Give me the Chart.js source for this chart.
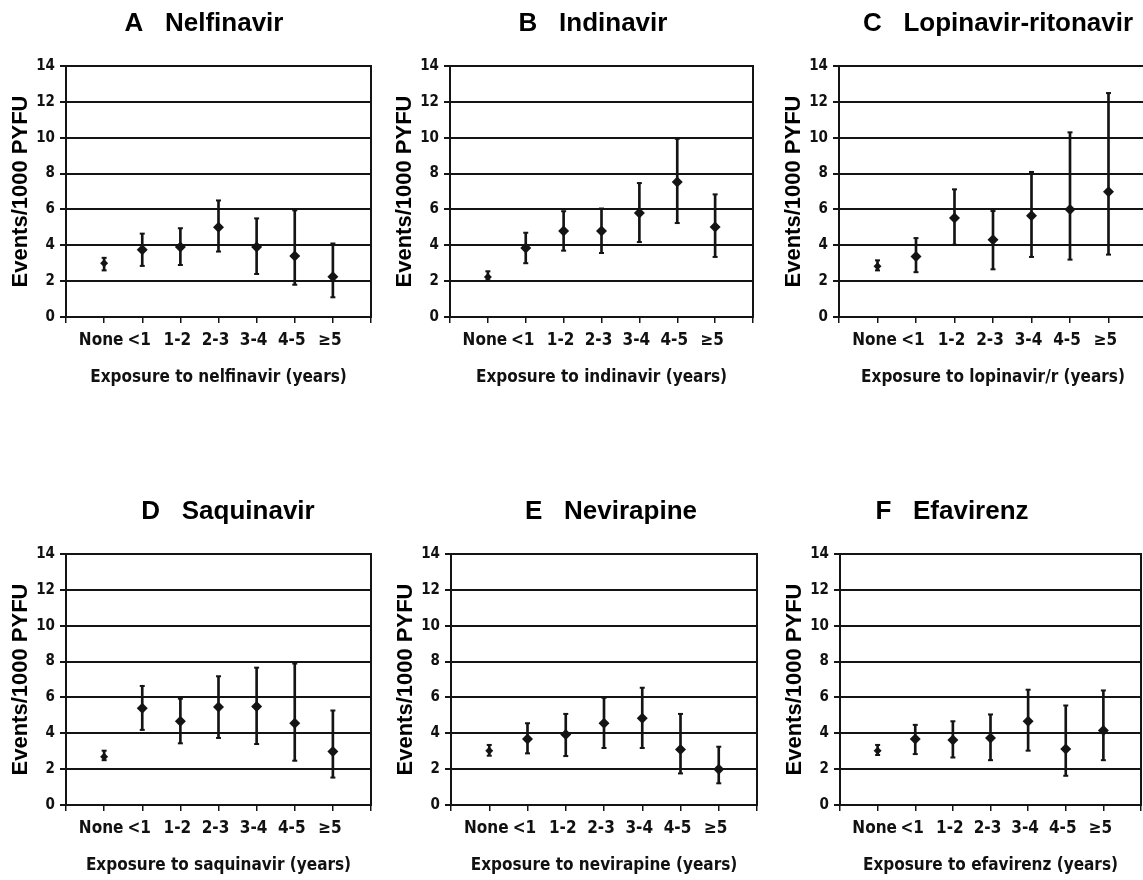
<!DOCTYPE html>
<html>
<head>
<meta charset="utf-8">
<script src="https://cdn.jsdelivr.net/npm/chart.js@4.4.1/dist/chart.umd.min.js"></script>
<style>
  html, body { margin: 0; padding: 0; background: #fff; width: 1143px; height: 880px; overflow: hidden; position: relative; }
  canvas { position: absolute; }
</style>
</head>
<body>
<script>
// --- Data (events / 1000 PYFU, with 95% CI) ---
const categories = ['None', '<1', '1-2', '2-3', '3-4', '4-5', '\u22655'];
const yTickValues = [0, 2, 4, 6, 8, 10, 12, 14];

const nelfinavirRate = [3.0, 3.75, 3.9, 5.0, 3.9, 3.4, 2.25];
const nelfinavirLow  = [2.6, 2.85, 2.9, 3.65, 2.4, 1.8, 1.1];
const nelfinavirHigh = [3.3, 4.65, 4.95, 6.5, 5.5, 5.95, 4.1];

const indinavirRate = [2.23, 3.85, 4.8, 4.8, 5.8, 7.53, 5.02];
const indinavirLow  = [2.05, 3.0, 3.7, 3.57, 4.18, 5.24, 3.35];
const indinavirHigh = [2.55, 4.7, 5.9, 6.05, 7.47, 9.94, 6.84];

const lopinavirRate = [2.83, 3.38, 5.52, 4.31, 5.65, 5.99, 6.99];
const lopinavirLow  = [2.6, 2.5, 4.03, 2.66, 3.35, 3.2, 3.48];
const lopinavirHigh = [3.16, 4.4, 7.12, 5.91, 8.09, 10.3, 12.49];

const saquinavirRate = [2.69, 5.4, 4.67, 5.46, 5.5, 4.56, 2.99];
const saquinavirLow  = [2.5, 4.19, 3.44, 3.74, 3.4, 2.47, 1.53];
const saquinavirHigh = [3.03, 6.64, 5.93, 7.18, 7.66, 7.89, 5.27];

const nevirapineRate = [3.03, 3.68, 3.93, 4.56, 4.84, 3.1, 2.0];
const nevirapineLow  = [2.75, 2.88, 2.73, 3.18, 3.18, 1.76, 1.21];
const nevirapineHigh = [3.35, 4.56, 5.08, 5.98, 6.54, 5.08, 3.25];

const efavirenzRate = [3.03, 3.68, 3.63, 3.74, 4.67, 3.12, 4.15];
const efavirenzLow  = [2.79, 2.84, 2.65, 2.5, 3.03, 1.63, 2.5];
const efavirenzHigh = [3.35, 4.47, 4.67, 5.05, 6.43, 5.55, 6.39];

// --- Panels: text + where each plot frame sits on the page ---
const panels = [
  { letter: 'A', drug: 'Nelfinavir', xTitle: 'Exposure to nelfinavir (years)', rate: nelfinavirRate, low: nelfinavirLow, high: nelfinavirHigh,
    row: 0, plotLeft: 66, plotRight: 371, titleX: 204 },
  { letter: 'B', drug: 'Indinavir', xTitle: 'Exposure to indinavir (years)', rate: indinavirRate, low: indinavirLow, high: indinavirHigh,
    row: 0, plotLeft: 450, plotRight: 753, titleX: 593 },
  { letter: 'C', drug: 'Lopinavir-ritonavir', xTitle: 'Exposure to lopinavir/r (years)', rate: lopinavirRate, low: lopinavirLow, high: lopinavirHigh,
    row: 0, plotLeft: 839, plotRight: 1147, titleX: 998 },
  { letter: 'D', drug: 'Saquinavir', xTitle: 'Exposure to saquinavir (years)', rate: saquinavirRate, low: saquinavirLow, high: saquinavirHigh,
    row: 1, plotLeft: 66, plotRight: 371, titleX: 228 },
  { letter: 'E', drug: 'Nevirapine', xTitle: 'Exposure to nevirapine (years)', rate: nevirapineRate, low: nevirapineLow, high: nevirapineHigh,
    row: 1, plotLeft: 451, plotRight: 757, titleX: 611 },
  { letter: 'F', drug: 'Efavirenz', xTitle: 'Exposure to efavirenz (years)', rate: efavirenzRate, low: efavirenzLow, high: efavirenzHigh,
    row: 1, plotLeft: 840, plotRight: 1148, titleX: 952 },
];

const ROW_TOP = [0, 488];
const CANVAS_H = 400;
const PLOT_TOP = 66, PLOT_BOTTOM = 317;
const INK = '#141414';
const NARROW = "'Liberation Sans Narrow', 'DejaVu Sans Condensed', 'Arial Narrow', sans-serif";
const SANS = "'Liberation Sans', Arial, Helvetica, sans-serif";

// empty slots at both ends give the frame its margin
const axisLabels = ['', ...categories, ''];
const pad = arr => [null, ...arr, null];

function makePanel(p) {
  const half = Math.max(p.titleX - (p.plotLeft - 64), p.plotRight - p.titleX);
  const w = 2 * Math.ceil(half);
  const left = p.titleX - w / 2;
  const yAxisW = p.plotLeft - left;
  const rightW = left + w - p.plotRight;

  const canvas = document.createElement('canvas');
  canvas.width = w;
  canvas.height = CANVAS_H;
  canvas.style.left = left + 'px';
  canvas.style.top = ROW_TOP[p.row] + 'px';
  canvas.style.width = w + 'px';
  canvas.style.height = CANVAS_H + 'px';
  document.body.appendChild(canvas);

  const titleLH = 26 * 1.2;
  const titlePadTop = 24 - titleLH / 2;

  new Chart(canvas.getContext('2d'), {
    type: 'bar',
    data: {
      labels: axisLabels,
      datasets: [
        {
          type: 'line', order: 0, data: pad(p.rate), showLine: false,
          pointStyle: 'rectRot',
          pointRadius: ctx => (ctx.dataIndex === 1 ? 4 : 5.5),
          pointBackgroundColor: INK, pointBorderColor: INK, pointBorderWidth: 0
        },
        {
          type: 'line', order: 1, data: pad(p.high), showLine: false,
          pointStyle: 'line', pointRadius: 2.5, pointBorderColor: INK, pointBorderWidth: 2
        },
        {
          type: 'line', order: 1, data: pad(p.low), showLine: false,
          pointStyle: 'line', pointRadius: 2.5, pointBorderColor: INK, pointBorderWidth: 2
        },
        {
          type: 'bar', order: 2,
          data: pad(p.low.map((lo, i) => [lo, p.high[i]])),
          backgroundColor: INK, borderWidth: 0, barThickness: 2
        }
      ]
    },
    options: {
      responsive: false,
      animation: false,
      devicePixelRatio: 1,
      layout: { padding: 0 },
      plugins: {
        legend: { display: false },
        tooltip: { enabled: false },
        title: {
          display: true,
          text: p.letter + '   ' + p.drug,
          color: '#000',
          font: { family: SANS, size: 26, weight: 'bold', lineHeight: 1.2 },
          padding: { top: titlePadTop, bottom: PLOT_TOP - titlePadTop - titleLH }
        }
      },
      scales: {
        x: {
          type: 'category',
          offset: false,
          grid: { display: true, drawOnChartArea: false, drawTicks: true, tickLength: 6, color: INK, lineWidth: 1.5, offset: false },
          border: { display: true, color: INK, width: 2 },
          ticks: { color: '#111', autoSkip: false, maxRotation: 0, padding: 7, labelOffset: -3,
                   font: { family: NARROW, size: 17, weight: 'bold', lineHeight: 1.2 } },
          title: { display: true, text: p.xTitle, color: '#111', padding: { top: 0, bottom: 12 },
                   font: { family: NARROW, size: 17, weight: 'bold', lineHeight: 1.2 } },
          afterFit: s => { s.height = CANVAS_H - PLOT_BOTTOM; }
        },
        y: {
          min: 0, max: 14,
          afterBuildTicks: s => { s.ticks = yTickValues.map(v => ({ value: v })); },
          grid: { color: INK, lineWidth: 2, tickLength: 6 },
          border: { display: true, color: INK, width: 2 },
          ticks: { color: '#111', padding: 5, font: { family: NARROW, size: 15, weight: 'bold' } },
          title: { display: true, text: 'Events/1000 PYFU', color: '#000',
                   padding: { top: (p.plotLeft - 45) - left - 13.2, bottom: 0 },
                   font: { family: SANS, size: 22, weight: 'bold', lineHeight: 1.2 } },
          afterFit: s => { s.width = yAxisW; }
        },
        yRight: {
          position: 'right', min: 0, max: 14,
          grid: { drawOnChartArea: false, drawTicks: false },
          border: { display: true, color: INK, width: 2 },
          ticks: { display: false },
          afterFit: s => { s.width = rightW; }
        }
      }
    }
  });
}

panels.forEach(makePanel);
</script>
</body>
</html>
